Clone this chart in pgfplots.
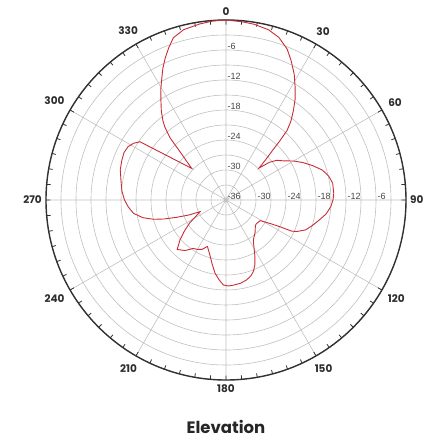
\documentclass[border=0pt]{standalone}
\usepackage{pgfplots}
\pgfplotsset{compat=1.18}
\usepackage{pgfplotstable}
\usepgfplotslibrary{polar}
\usepackage{fontspec}
\setmainfont{Poppins}
\newfontfamily\radfont{Liberation Sans}
\definecolor{pat}{RGB}{200,45,55}
\definecolor{gridc}{RGB}{192,192,192}
\definecolor{axc}{RGB}{50,50,50}
\definecolor{labc}{RGB}{45,45,45}
\definecolor{radc}{RGB}{70,70,70}

\pgfplotstableread{
ang db
0 0
5 -0.2
9 -0.4
14 -0.9
18 -1.8
22 -3.4
25 -5.2
28.5 -7.4
31.6 -9.6
34.5 -11.6
37 -13.6
39.5 -15.6
41.3 -17.5
42.3 -20
43 -22
44.5 -24.6
46 -26.8
49 -24.5
52 -23.1
56 -22
60 -20.4
64 -18.9
68.5 -17.3
72.8 -15.8
77 -14.9
81 -14.4
86.5 -14.4
90 -14.6
93.6 -15
98 -15.8
102 -16.9
106.5 -18
110.6 -19
114 -20.5
115.4 -21.5
116.3 -23.8
117.5 -25.5
121 -28
125 -28.2
129 -28.3
132 -28.1
138 -27.3
145.7 -26.3
149.9 -24.8
152.9 -23.3
156 -21.8
159 -20.7
162 -20
165.5 -19.5
170 -19.1
175 -18.9
178.5 -18.8
181.8 -19
185 -20
188.5 -21.2
192 -22.8
196.2 -24.5
201.8 -26
206 -25
210 -24.6
214.1 -24.3
219 -23
224.6 -22.1
229 -23.8
233 -25.5
238 -27.5
242 -29.3
245.8 -30.3
248 -28
250.7 -25.5
253 -23
255.1 -21
258 -19
261.8 -17.3
266 -16.4
270 -15.7
275 -15.1
280.9 -14.6
286 -14.0
291 -13.7
295 -13.5
298.6 -13.7
301.5 -14.3
304.1 -15.2
312.7 -26.7
314.5 -25
316 -23.3
318 -19.3
320 -17
321.4 -15.8
324 -14
326.7 -12.3
329.5 -10.3
332.3 -8.4
334.5 -6.7
337 -5
339.5 -3.4
342 -1.9
346 -0.9
351.5 -0.4
356 -0.1
360 0
}\elevdata

\begin{document}
\begin{tikzpicture}[radlab/.style={anchor=west, xshift=1pt, yshift=3.5pt, inner sep=0.5pt, font=\radfont\fontsize{9}{10}\selectfont, text=radc}]
\useasboundingbox (-226pt,-240pt) rectangle (201pt,200pt);
\begin{polaraxis}[
  at={(0,0)}, anchor=center,
  scale only axis, width=360pt, height=360pt,
  clip=false,
  xmin=0, xmax=360, ymin=0, ymax=36,
  xtick={0,30,...,330},
  xticklabels={90,60,30,0,330,300,270,240,210,180,150,120},
  minor x tick num=5,
  ytick={0,3,...,36},
  yticklabels={},
  y tick style={draw=none},
  y axis line style={draw=none},
  x tick style={axc, line width=0.8pt},
  major tick length=4.5pt,
  minor tick length=4pt,
  tick align=outside,
  grid=major,
  major grid style={gridc, line width=0.6pt},
  x axis line style={axc, line width=1.4pt},
  xticklabel style={font=\bfseries\fontsize{10.5}{12}\selectfont, text=labc, inner sep=8.5pt},
]
\addplot[pat, line width=0.9pt, no markers] table[x expr={90-\thisrow{ang}}, y expr={\thisrow{db}+36}] {\elevdata};
\node[radlab] at (axis cs:0,0) {-36};
\node[radlab] at (axis cs:0,6) {-30};
\node[radlab] at (axis cs:0,12) {-24};
\node[radlab] at (axis cs:0,18) {-18};
\node[radlab] at (axis cs:0,24) {-12};
\node[radlab] at (axis cs:0,30) {-6};
\node[radlab] at (axis cs:90,6) {-30};
\node[radlab] at (axis cs:90,12) {-24};
\node[radlab] at (axis cs:90,18) {-18};
\node[radlab] at (axis cs:90,24) {-12};
\node[radlab] at (axis cs:90,30) {-6};
\end{polaraxis}
\node[font=\bfseries\fontsize{16.5}{19}\selectfont, text=black!85] at (0pt,-227pt) {Elevation};
\end{tikzpicture}
\end{document}
